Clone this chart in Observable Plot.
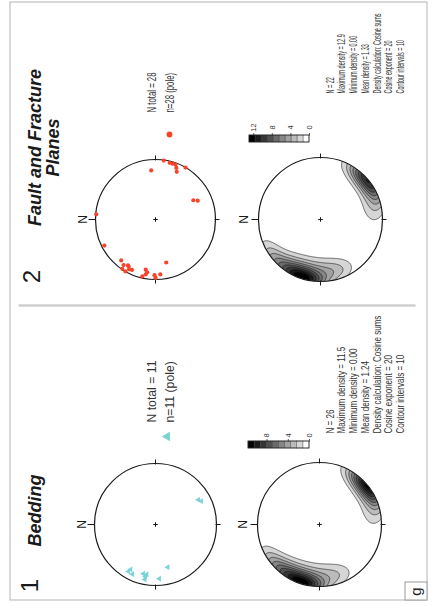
<!DOCTYPE html>
<html>
<head>
<meta charset="utf-8">
<script src="https://cdn.jsdelivr.net/npm/d3@7"></script>
<script src="https://cdn.jsdelivr.net/npm/@observablehq/plot@0.6"></script>
<style>
  html, body { margin: 0; padding: 0; background: #fff; }
  #chart { width: 435px; height: 607px; }
</style>
</head>
<body>
<div id="chart"></div>
<script>
// ---------------- DATA ----------------
const panelNumbers = ["2", "1"];
const panelTitles = ["Fault and Fracture\nPlanes", "Bedding"];

// poles to fault & fracture planes (trend, plunge in degrees)
const faultPoleTrend  = [98, 104, 110, 112, 114, 120, 85, 153, 156, 107,
                         5, 333, 310, 305, 301, 298, 295, 304, 300, 281, 279, 280, 283, 271, 270, 265, 256, 300];
const faultPolePlunge = [1, 3, 3, 8, 14, 0, 19, 30, 24, 3,
                         1, 5, 12, 8, 12, 7, 8, 1, 0, 16, 12, 8, 3, 8, 3, 9, 27, 11];

// poles to bedding
const beddingPoleTrend  = [150, 153, 300, 295, 284, 281, 281, 266, 254, 299, 280];
const beddingPolePlunge = [20, 17, 12, 11, 18, 14, 9, 12, 28, 17, 18];

// data behind the density plots (N = 22 and N = 26)
const faultContourTrend  = [129, 134, 137, 140, 143, 147, 153, 168,
                            280, 283, 285, 287, 282, 290, 298, 305, 315, 325, 300, 280, 260, 250];
const faultContourPlunge = [1, 2, 0, 1, 2, 1, 3, 16,
                            1, 0, 2, 1, 3, 2, 2, 3, 2, 3, 18, 22, 20, 12];
const beddingContourTrend  = [129, 134, 137, 139, 141, 143, 145, 148, 153, 168,
                              280, 283, 284, 285, 287, 282, 290, 298, 305, 310, 315, 325, 300, 280, 260, 250];
const beddingContourPlunge = [1, 2, 0, 1, 1, 2, 0, 1, 3, 16,
                              1, 0, 1, 2, 1, 3, 2, 2, 3, 8, 2, 3, 18, 22, 20, 12];

const faultPoleLabels   = ["N total = 28", "n=28 (pole)"];
const beddingPoleLabels = ["N total = 11", "n=11 (pole)"];

const faultStats = ["N = 22", "Maximum density = 12.9", "Minimum density = 0.00", "Mean density = 1.33",
                    "Density calculation: Cosine sums", "Cosine exponent = 20", "Contour intervals = 10"];
const beddingStats = ["N = 26", "Maximum density = 11.5", "Minimum density = 0.00", "Mean density = 1.24",
                      "Density calculation: Cosine sums", "Cosine exponent = 20", "Contour intervals = 10"];

const faultMaxDensity = 12.9;
const beddingMaxDensity = 11.5;
const faultLegendTicks = [0, 4, 8, 12];
const beddingLegendTicks = [0, 4, 8];
const cosineExponent = 20;
const contourIntervals = 10;
const figureLetter = "g";

// ---------------- LAYOUT / STYLE ----------------
const W = 435, H = 607;
const layout = {
  frame: {x1: 10, y1: 2, x2: 427, y2: 600},
  divider: {x1: 18, x2: 415, y: 305},
  letterBox: {x1: 405, y1: 582, x2: 427, y2: 600},
  statsX0: 330, statsDX: 11.7
};
const panels = [
  {
    number: panelNumbers[0], numberPos: [32, 276], title: panelTitles[0], titlePos: [44, 147],
    poleNet: {cx: 155, cy: 219, R: 60}, densNet: {cx: 320, cy: 219, R: 62},
    poleTrend: faultPoleTrend, polePlunge: faultPolePlunge, symbol: "circle", color: "#f8432a", symR: 2.1, legendR: 2.9,
    contourTrend: faultContourTrend, contourPlunge: faultContourPlunge,
    poleLabels: faultPoleLabels, poleLabelX: [151.7, 170], poleLabelY: 112, poleFit: 40,
    legendSym: [169, 134],
    stats: faultStats, statsY: 93, statsFit: 80,
    maxDensity: faultMaxDensity, ticks: faultLegendTicks,
    bar: {left: 249, right: 309, top: 135, bottom: 142, labelY: 127}
  },
  {
    number: panelNumbers[1], numberPos: [30, 585], title: panelTitles[1], titlePos: [35, 510],
    poleNet: {cx: 155, cy: 524, R: 61}, densNet: {cx: 319, cy: 524, R: 62},
    poleTrend: beddingPoleTrend, polePlunge: beddingPolePlunge, symbol: "tri", color: "#79d2d4", symR: 3.3, legendR: 5.5,
    contourTrend: beddingContourTrend, contourPlunge: beddingContourPlunge,
    poleLabels: beddingPoleLabels, poleLabelX: [151.7, 170], poleLabelY: 422, poleFit: 62,
    legendSym: [166.7, 436],
    stats: beddingStats, statsY: 433, statsFit: 118,
    maxDensity: beddingMaxDensity, ticks: beddingLegendTicks,
    bar: {left: 248, right: 309, top: 441, bottom: 448, labelY: 435}
  }
];

// ---------------- HELPERS ----------------
const rad = d => d * Math.PI / 180;
// lower-hemisphere equal-area (Schmidt) projection; North points left (figure is rotated)
function project(trend, plunge) {
  const r = Math.SQRT2 * Math.sin(rad(90 - plunge) / 2);
  const t = rad(trend);
  return [-r * Math.cos(t), -r * Math.sin(t)];
}
function vec(trend, plunge) {
  const t = rad(trend), p = rad(plunge);
  return [Math.cos(p) * Math.cos(t), Math.cos(p) * Math.sin(t), Math.sin(p)];
}
// cosine-sums density on the lower hemisphere, as a function of unit-net coordinates
function densityFn(trends, plunges, k) {
  const vs = trends.map((t, i) => vec(t, plunges[i]));
  const n = vs.length;
  return (u, v) => {
    const h = Math.hypot(u, v);
    const r = Math.min(h, Math.SQRT2);
    const th = 2 * Math.asin(r / Math.SQRT2);
    const s = Math.sin(th), c = Math.cos(th);
    const hx = h > 0 ? -u / h : 1, hy = h > 0 ? -v / h : 0;
    const p0 = s * hx, p1 = s * hy, p2 = c;
    let sum = 0;
    for (const q of vs) {
      const d = p0 * q[0] + p1 * q[1] + p2 * q[2];
      if (d > 0) sum += Math.pow(d, k);
    }
    return (k + 1) / n * sum;
  };
}
const triLeft = {
  draw(ctx, size) {
    const r = Math.sqrt(size / Math.PI);
    const h = r * Math.sqrt(3) / 2;
    ctx.moveTo(-r, 0);
    ctx.lineTo(r / 2, -h);
    ctx.lineTo(r / 2, h);
    ctx.closePath();
  }
};

// ---------------- MARKS ----------------
const ink = "#1a1a1a";
const font = "Arial, 'Liberation Sans', sans-serif";
const marks = [];

function netFrame(net, nLabelOffset) {
  const {cx, cy, R} = net;
  const dirs = [
    {dx: -1, dy: 0, out: 7, inn: 0},  // N (left)
    {dx: 0, dy: -1, out: 4, inn: 1},
    {dx: 1, dy: 0, out: 4, inn: 1},
    {dx: 0, dy: 1, out: 4, inn: 1}
  ];
  marks.push(Plot.dot([net], {x: "cx", y: "cy", r: R, fill: "none", stroke: ink, strokeWidth: 1.2}));
  marks.push(Plot.link(dirs, {
    x1: d => cx + d.dx * (R - d.inn), y1: d => cy + d.dy * (R - d.inn),
    x2: d => cx + d.dx * (R + d.out), y2: d => cy + d.dy * (R + d.out),
    stroke: ink, strokeWidth: 1
  }));
  marks.push(Plot.dot([net], {x: "cx", y: "cy", symbol: "plus", r: 1.6, stroke: ink, strokeWidth: 1}));
  marks.push(Plot.text([net], {x: d => d.cx - d.R - nLabelOffset, y: "cy", text: () => "N", rotate: -90,
    fontSize: 12, fontFamily: font, fill: ink}));
}

for (const P of panels) {
  const {cx, cy, R} = P.densNet;
  const f = densityFn(P.contourTrend, P.contourPlunge, cosineExponent);
  let mx = 0;
  for (let i = -1; i <= 1; i += 0.01) for (let j = -1; j <= 1; j += 0.01) if (i * i + j * j <= 1) mx = Math.max(mx, f(i, j));
  const step = mx / contourIntervals;
  marks.push(Plot.contour({
    x1: cx - R, x2: cx + R, y1: cy - R, y2: cy + R,
    fill: (x, y) => f((x - cx) / R, (y - cy) / R) / step,
    thresholds: d3.range(1, contourIntervals),
    stroke: "#111", strokeWidth: 0.6, pixelSize: 0.5
  }));
  // white mask outside the primitive circle
  marks.push(Plot.dot([P.densNet], {x: "cx", y: "cy", r: R + 14, fill: "none", stroke: "white", strokeWidth: 28}));
}

for (const P of panels) {
  netFrame(P.densNet, 14);
  netFrame(P.poleNet, 12);

  const {cx, cy, R} = P.poleNet;
  const poles = P.poleTrend.map((t, i) => {
    const [u, v] = project(t, P.polePlunge[i]);
    return {x: cx + R * u, y: cy + R * v};
  });
  const sym = P.symbol === "tri" ? triLeft : "circle";
  marks.push(Plot.dot(poles, {x: "x", y: "y", r: P.symR, fill: P.color, stroke: "none", symbol: sym}));
  marks.push(Plot.dot([{x: P.legendSym[0], y: P.legendSym[1]}], {x: "x", y: "y", r: P.legendR, fill: P.color, symbol: sym}));
  marks.push(Plot.text(P.poleLabels.map((t, i) => ({t, x: P.poleLabelX[i], y: P.poleLabelY})), {
    x: "x", y: "y", text: "t", rotate: -90, textAnchor: "start", fontSize: 12, fontFamily: font, fill: "#333",
    ariaDescription: "fit:" + P.poleFit
  }));

  marks.push(Plot.text(P.stats.map((t, i) => ({t, x: layout.statsX0 + i * layout.statsDX, y: P.statsY})), {
    x: "x", y: "y", text: "t", rotate: -90, textAnchor: "start", fontSize: 10, fontFamily: font, fill: "#333",
    ariaDescription: "fit:" + P.statsFit
  }));

  // grey-scale legend bar
  const b = P.bar;
  const pxPerUnit = (b.right - b.left) / P.maxDensity;
  const cellStep = P.maxDensity / contourIntervals;
  const cells = d3.range(contourIntervals).map(i => ({i, v0: i * cellStep, v1: (i + 1) * cellStep}));
  marks.push(Plot.rect(cells, {
    x1: d => b.right - d.v0 * pxPerUnit, x2: d => b.right - d.v1 * pxPerUnit,
    y1: () => b.top, y2: () => b.bottom, fill: "i", stroke: "#444", strokeWidth: 0.4
  }));
  marks.push(Plot.rect([b], {x1: "left", x2: "right", y1: "top", y2: "bottom", fill: "none", stroke: ink, strokeWidth: 0.7}));
  marks.push(Plot.link(P.ticks, {
    x1: v => b.right - v * pxPerUnit, x2: v => b.right - v * pxPerUnit,
    y1: () => b.top - 2.5, y2: () => b.top, stroke: ink, strokeWidth: 0.7
  }));
  marks.push(Plot.text(P.ticks, {
    x: v => b.right - v * pxPerUnit, y: () => b.labelY, text: v => String(v), rotate: -90,
    fontSize: 7.5, fontFamily: font, fill: "#333"
  }));

  marks.push(Plot.text([P], {x: d => d.numberPos[0], y: d => d.numberPos[1], text: "number", rotate: -90,
    fontSize: 24, fontFamily: font, fill: ink}));
  marks.push(Plot.text([P], {x: d => d.titlePos[0], y: d => d.titlePos[1], text: "title", rotate: -90,
    fontSize: 18, fontWeight: "bold", fontStyle: "italic", fontFamily: font, lineHeight: 1.0, fill: ink}));
}

marks.push(Plot.rect([layout.frame], {x1: "x1", x2: "x2", y1: "y1", y2: "y2", fill: "none", stroke: "#b4b4b4", strokeWidth: 1}));
marks.push(Plot.link([layout.divider], {x1: "x1", x2: "x2", y1: "y", y2: "y", stroke: "#cfcfcf", strokeWidth: 2.5}));
marks.push(Plot.rect([layout.letterBox], {x1: "x1", x2: "x2", y1: "y1", y2: "y2", fill: "white", stroke: "#9a9a9a", strokeWidth: 1}));
marks.push(Plot.text([layout.letterBox], {x: d => (d.x1 + d.x2) / 2, y: d => (d.y1 + d.y2) / 2, text: () => figureLetter,
  rotate: -90, fontSize: 15, fontFamily: font, fill: "#222"}));

const svg = Plot.plot({
  width: W, height: H, margin: 0,
  x: {domain: [0, W], range: [0, W], axis: null},
  y: {domain: [0, H], range: [0, H], axis: null},
  color: {type: "linear", domain: [0, contourIntervals - 1],
    interpolate: t => t <= 0.001 ? "#ffffff" : d3.interpolateRgb("#d6d6d6", "#000000")(Math.max(0, (t * (contourIntervals - 1) - 1) / (contourIntervals - 2)))},
  style: {background: "white", fontFamily: font, overflow: "visible"},
  marks
});

document.getElementById("chart").appendChild(svg);

// fit condensed text groups: longest line of each group squeezed to its target length (reading direction)
svg.querySelectorAll("g[aria-description]").forEach(g => {
  const m = /^fit:(.+)$/.exec(g.getAttribute("aria-description"));
  if (!m) return;
  const target = +m[1];
  const texts = Array.from(g.querySelectorAll("text"));
  const longest = d3.max(texts, t => t.getComputedTextLength());
  if (!longest) return;
  const s = target / longest;
  texts.forEach(t => t.setAttribute("transform", (t.getAttribute("transform") || "") + ` scale(${s},1)`));
});
</script>
</body>
</html>
